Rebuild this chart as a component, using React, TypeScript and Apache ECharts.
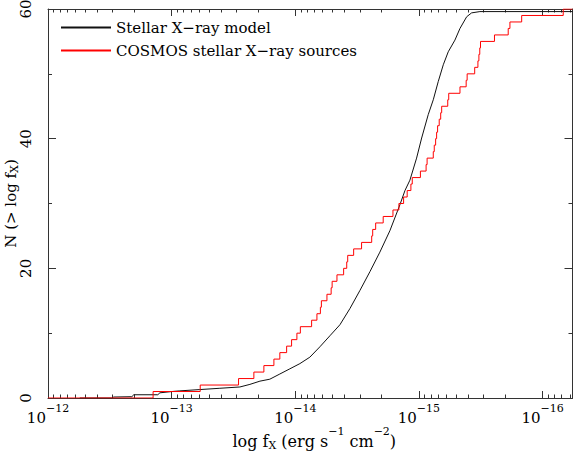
import React, { useEffect, useRef } from 'react';
import * as echarts from 'echarts';

const seriesNames = ['Stellar X−ray model', 'COSMOS stellar X−ray sources'];

// COSMOS sources: log fX at which the cumulative count N(> log fX) steps up by one
const cosmosLogFlux = [
  -12.850, -13.231, -13.541, -13.665, -13.746, -13.827, -13.875, -13.930, -13.970, -14.013,
  -14.041, -14.132, -14.175, -14.203, -14.211, -14.256, -14.290, -14.298, -14.337, -14.391,
  -14.416, -14.424, -14.472, -14.536, -14.618, -14.626, -14.650, -14.711, -14.790, -14.838,
  -14.876, -14.905, -14.935, -14.946, -15.012, -15.058, -15.066, -15.116, -15.124, -15.135,
  -15.143, -15.151, -15.164, -15.176, -15.184, -15.233, -15.241, -15.332, -15.382, -15.390,
  -15.451, -15.477, -15.485, -15.492, -15.498, -15.611, -15.722, -15.736, -15.831, -16.167,
];

// Stellar X-ray model curve: log fX and N(> log fX)
const modelLogFlux = [
  -12.257, -12.516, -12.532, -12.678, -12.694, -12.888, -12.905, -13.002, -13.066, -13.228,
  -13.390, -13.552, -13.633, -13.714, -13.794, -13.875, -13.956, -14.037, -14.118, -14.199,
  -14.280, -14.361, -14.442, -14.523, -14.604, -14.684, -14.765, -14.846, -14.887, -14.927,
  -14.981, -15.022, -15.075, -15.116, -15.156, -15.197, -15.237, -15.291, -15.332, -15.386,
  -15.426, -15.493, -16.242,
];
const modelN = [
  0, 0, 0.15, 0.2, 0.5, 0.5, 0.8, 1.0, 1.1, 1.3,
  1.5, 1.7, 2.1, 2.6, 2.9, 3.7, 4.5, 5.3, 6.3, 7.9,
  9.6, 11.3, 13.8, 16.6, 19.5, 22.5, 25.8, 29.8, 32.0, 33.6,
  37.0, 40.1, 43.7, 46.0, 48.8, 51.4, 53.4, 55.2, 57.0, 58.8,
  59.4, 59.6, 59.6,
];

// axis: plotted quantity is -log fX (flux decreasing to the right)
const xDecades = [12, 13, 14, 15, 16];
const xMin = 12;
const xMax = 16.242;
const yTicks = [0, 20, 40, 60];

const FONT = 'DejaVu Serif';

export default function App() {
  const ref = useRef<HTMLDivElement>(null);

  useEffect(() => {
    if (!ref.current) return;
    const chart = echarts.init(ref.current, null, { renderer: 'svg' });

    const minorX: number[] = [];
    for (let d = 12; d <= 16; d++) {
      for (let k = 2; k <= 9; k++) {
        const v = d + 1 - Math.log10(k);
        if (v <= xMax) minorX.push(v);
      }
    }

    const cosmosData: number[][] = [[xMin, 0]];
    cosmosLogFlux.forEach((lf, i) => cosmosData.push([-lf, i + 1]));
    cosmosData.push([xMax, cosmosLogFlux.length]);

    const modelData = modelLogFlux.map((lf, i) => [-lf, modelN[i]]);

    const axisLine = { show: true, lineStyle: { color: '#333', width: 1 } };

    const baseX = {
      type: 'value',
      min: xMin,
      max: xMax,
      splitLine: { show: false },
    };

    const xLabelRich = {
      b: { fontSize: 15, fontFamily: FONT, color: '#000', lineHeight: 22, verticalAlign: 'bottom' },
      s: { fontSize: 11, fontFamily: FONT, color: '#000', lineHeight: 11, verticalAlign: 'top' },
    };

    const nameRich = {
      m: { fontSize: 16, fontFamily: FONT, color: '#000', lineHeight: 16, padding: [3, 0, 2, 0], verticalAlign: 'bottom' },
      sub: { fontSize: 11, fontFamily: FONT, color: '#000', lineHeight: 6, verticalAlign: 'bottom' },
      sup: { fontSize: 11, fontFamily: FONT, color: '#000', lineHeight: 8, padding: [0, 0, 14, 0], verticalAlign: 'bottom' },
    };
    const yNameRich = {
      m: { fontSize: 15, fontFamily: FONT, color: '#000', lineHeight: 16, padding: [0, 0, 2, 0], verticalAlign: 'bottom' },
      sub: { fontSize: 11, fontFamily: FONT, color: '#000', lineHeight: 6, verticalAlign: 'bottom' },
    };

    const option: any = {
      animation: false,
      backgroundColor: '#fff',
      grid: { left: 48, right: 1.5, top: 9, bottom: 59, containLabel: false, outerBoundsMode: 'none' },
      legend: {
        orient: 'vertical',
        left: 55,
        top: 15,
        itemWidth: 50,
        itemHeight: 14,
        itemGap: 8,
        data: seriesNames,
        itemStyle: { opacity: 0, color: 'transparent', borderWidth: 0 },
        textStyle: { fontFamily: FONT, fontSize: 15, color: '#000' },
      },
      xAxis: [
        {
          ...baseX,
          position: 'bottom',
          axisLine,
          axisTick: { show: true, inside: true, length: 7, customValues: xDecades, lineStyle: { color: '#333' } },
          axisLabel: {
            show: true,
            customValues: xDecades,
            margin: 5,
            formatter: (v: number) => `{b|10}{s|−${Math.round(v)}}`,
            rich: xLabelRich,
          },
          name: '{m|log f}{sub|X}{m| (erg s}{sup|−1}{m| cm}{sup|−2}{m|)}',
          nameLocation: 'middle',
          nameGap: 37,
          nameMoveOverlap: false,
          nameTextStyle: { rich: nameRich, padding: [0, 0, 0, 8] },
        },
        {
          ...baseX,
          position: 'bottom',
          axisLine: { show: false },
          axisTick: { show: true, inside: true, length: 3.5, customValues: minorX, lineStyle: { color: '#333' } },
          axisLabel: { show: false },
        },
        {
          ...baseX,
          position: 'top',
          axisLine,
          axisTick: { show: true, inside: true, length: 7, customValues: xDecades, lineStyle: { color: '#333' } },
          axisLabel: { show: false },
        },
        {
          ...baseX,
          position: 'top',
          axisLine: { show: false },
          axisTick: { show: true, inside: true, length: 3.5, customValues: minorX, lineStyle: { color: '#333' } },
          axisLabel: { show: false },
        },
      ],
      yAxis: [
        {
          type: 'value',
          position: 'left',
          min: 0,
          max: 60,
          interval: 20,
          splitLine: { show: false },
          axisLine,
          axisTick: { show: true, inside: true, length: 8, lineStyle: { color: '#333' } },
          minorTick: { show: true, splitNumber: 2, length: 4, lineStyle: { color: '#333' } },
          axisLabel: {
            show: true,
            rotate: 90,
            margin: 15,
            fontFamily: FONT,
            fontSize: 15,
            color: '#000',
            formatter: (v: number) => (yTicks.includes(v) ? String(v) : ''),
          },
          name: '{m|N (> log f}{sub|X}{m|)}',
          nameLocation: 'middle',
          nameRotate: 90,
          nameGap: 28,
          nameMoveOverlap: false,
          nameTextStyle: { rich: yNameRich },
        },
        {
          type: 'value',
          position: 'right',
          min: 0,
          max: 60,
          interval: 20,
          splitLine: { show: false },
          axisLine,
          axisTick: { show: true, inside: true, length: 8, lineStyle: { color: '#333' } },
          minorTick: { show: true, splitNumber: 2, length: 4, lineStyle: { color: '#333' } },
          axisLabel: { show: false },
        },
      ],
      series: [
        {
          name: seriesNames[0],
          type: 'line',
          xAxisIndex: 0,
          yAxisIndex: 0,
          data: modelData,
          symbol: 'none',
          lineStyle: { color: '#111', width: 1 },
          itemStyle: { color: '#111' },
          z: 2,
        },
        {
          name: seriesNames[1],
          type: 'line',
          xAxisIndex: 0,
          yAxisIndex: 0,
          data: cosmosData,
          step: 'end',
          symbol: 'none',
          lineStyle: { color: '#ff0000', width: 1 },
          itemStyle: { color: '#ff0000' },
          z: 3,
        },
      ],
    };

    chart.setOption(option);
    return () => chart.dispose();
  }, []);

  return (
    <div
      ref={ref}
      style={{ position: 'fixed', left: 0, top: 0, width: 574, height: 457, background: '#fff' }}
    />
  );
}
